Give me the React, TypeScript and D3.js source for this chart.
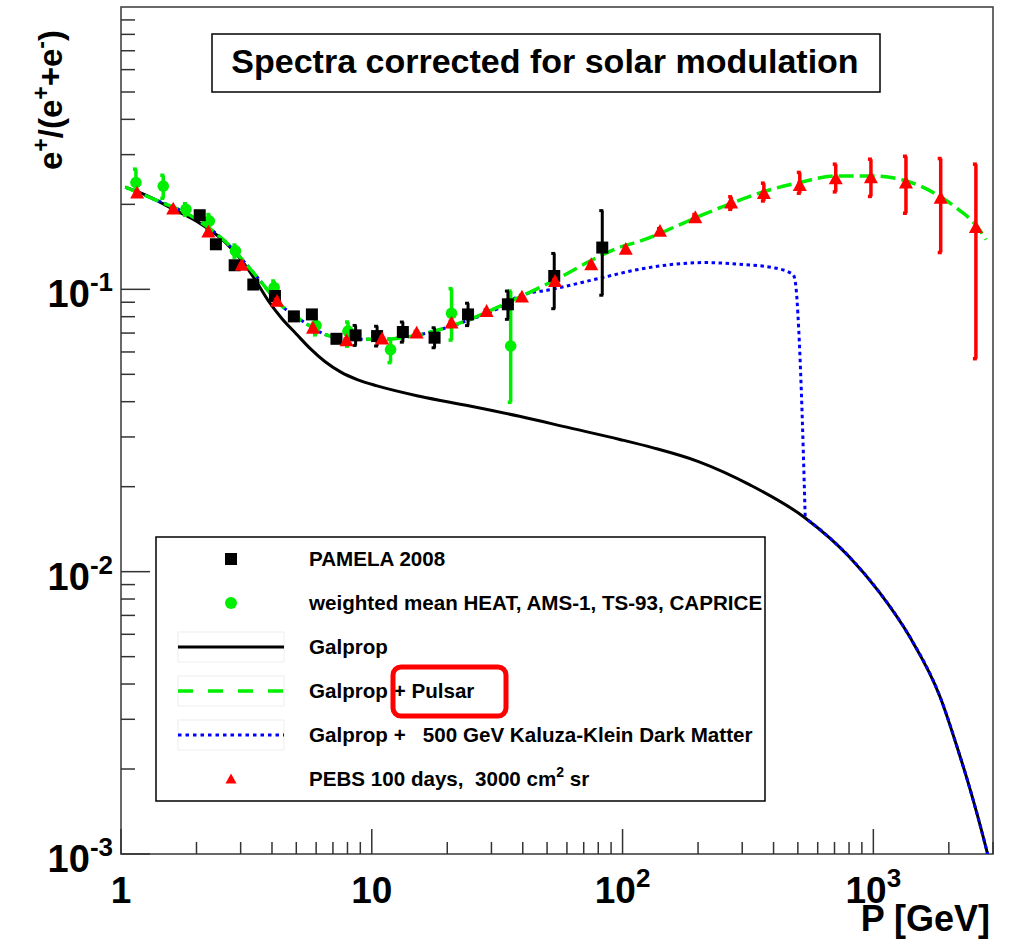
import React from 'react';
import * as d3 from 'd3';

const W = 1017, H = 939;
const PX0 = 121, PX1 = 993, PY0 = 854, PY1 = 7;

const titleText = 'Spectra corrected for solar modulation';

// Galprop (black solid)
const galpropX = [1.04, 1.28, 1.62, 2.03, 2.6, 3.0, 3.42, 3.87, 4.37, 5.0, 5.7, 6.5, 7.5, 8.8, 10.5, 15.5, 24.6, 38.8, 61.6, 97.5, 131.5, 202, 322, 535, 801, 1052, 1393, 1846, 2195, 2370, 2855, 2950];
const galpropY = [0.23, 0.214, 0.192, 0.173, 0.147, 0.128, 0.1085, 0.091, 0.079, 0.0695, 0.0615, 0.0555, 0.051, 0.0478, 0.0455, 0.0418, 0.0386, 0.0355, 0.0323, 0.0294, 0.0275, 0.0245, 0.0203, 0.0155, 0.0113, 0.0085, 0.0059, 0.0036, 0.00228, 0.00183, 0.001, 0.00089];

// Galprop + Pulsar (green dashed)
const pulsarX = [1.04, 1.28, 2.03, 2.6, 3.42, 4.3, 5.17, 6.5, 8.17, 10.7, 14.1, 18.7, 24.6, 32.3, 42.6, 56.1, 73.9, 97.5, 116.8, 196.6, 265, 373, 507, 708, 995, 1356, 1831, 2182, 2578, 2816];
const pulsarY = [0.23, 0.213, 0.1756, 0.148, 0.113, 0.0885, 0.0783, 0.0693, 0.0665, 0.0665, 0.068, 0.0721, 0.0783, 0.087, 0.0975, 0.11, 0.1257, 0.141, 0.148, 0.1796, 0.2, 0.223, 0.239, 0.252, 0.252, 0.242, 0.214, 0.192, 0.168, 0.15];

// Galprop + 500 GeV KK dark matter (blue dotted), up to where it rejoins Galprop
const kkX = [1.04, 1.28, 2.03, 2.6, 3.42, 4.3, 5.17, 6.5, 8.17, 10.7, 14.1, 18.7, 24.6, 32.3, 38.8, 52.4, 83, 116.8, 215, 292, 397, 478, 489, 504, 516, 535];
const kkY = [0.23, 0.213, 0.1756, 0.148, 0.113, 0.0885, 0.0783, 0.0693, 0.0665, 0.0665, 0.068, 0.072, 0.078, 0.086, 0.0947, 0.1, 0.11, 0.1178, 0.1244, 0.1227, 0.1194, 0.113, 0.1056, 0.0722, 0.0441, 0.0155];
const kkJoin = 535; // above this energy the KK curve equals Galprop

// PAMELA 2008 (black squares)
const pamelaX = [2.06, 2.39, 2.84, 3.37, 4.11, 4.89, 5.77, 7.23, 8.62, 10.5, 13.3, 17.8, 24.2, 34.9, 53.4, 83.0];
const pamelaY = [0.183, 0.1444, 0.1217, 0.104, 0.0947, 0.0802, 0.0815, 0.0668, 0.0687, 0.0683, 0.0706, 0.0674, 0.0815, 0.0885, 0.1115, 0.1406];
const pamelaLo = [0.178, 0.14, 0.118, 0.101, 0.092, 0.078, 0.079, 0.065, 0.0633, 0.063, 0.065, 0.0621, 0.0744, 0.0783, 0.0854, 0.0953];
const pamelaHi = [0.188, 0.149, 0.125, 0.107, 0.0975, 0.0825, 0.084, 0.0687, 0.0745, 0.074, 0.0766, 0.0731, 0.0893, 0.0986, 0.134, 0.19];

// weighted mean HEAT, AMS-1, TS-93, CAPRICE (green circles)
const heatX = [1.147, 1.474, 1.815, 2.25, 2.86, 4.08, 5.99, 8.04, 11.88, 20.8, 35.8];
const heatY = [0.239, 0.232, 0.192, 0.1746, 0.1368, 0.1014, 0.0745, 0.0711, 0.0612, 0.0822, 0.063];
const heatLo = [0.221, 0.21, 0.183, 0.166, 0.13, 0.096, 0.069, 0.0629, 0.055, 0.0661, 0.0398];
const heatHi = [0.2665, 0.2535, 0.201, 0.184, 0.1435, 0.107, 0.08, 0.0766, 0.0665, 0.1006, 0.0986];

// PEBS 100 days (red triangles)
const pebsX = [1.16, 1.615, 2.23, 3.03, 4.19, 5.83, 7.93, 11.0, 15.1, 20.8, 28.7, 39.7, 53.8, 75.0, 103, 141, 195, 271, 366, 509, 708, 978, 1349, 1856, 2564];
const pebsY = [0.22, 0.193, 0.16, 0.122, 0.091, 0.0731, 0.066, 0.0669, 0.0702, 0.0762, 0.0838, 0.0942, 0.107, 0.1227, 0.139, 0.161, 0.18, 0.203, 0.219, 0.234, 0.247, 0.249, 0.239, 0.211, 0.166];
const pebsLo = [0.218, 0.191, 0.158, 0.121, 0.09, 0.0724, 0.0653, 0.0662, 0.0695, 0.0754, 0.083, 0.0932, 0.106, 0.121, 0.137, 0.158, 0.176, 0.192, 0.2056, 0.219, 0.2214, 0.2134, 0.186, 0.135, 0.0568];
const pebsHi = [0.222, 0.195, 0.162, 0.123, 0.092, 0.0738, 0.0667, 0.0676, 0.0709, 0.077, 0.0846, 0.0952, 0.108, 0.124, 0.141, 0.164, 0.184, 0.2127, 0.2377, 0.2595, 0.2775, 0.289, 0.296, 0.2906, 0.2775];

const xMajor = [1, 10, 100, 1000];
const xMajorBase = ['1', '10', '10', '10'];
const xMajorSup = ['', '', '2', '3'];
const yMajor = [1e-3, 1e-2, 1e-1];
const yMajorSup = ['-3', '-2', '-1'];

const legendLabels = [
  'PAMELA 2008',
  'weighted mean HEAT, AMS-1, TS-93, CAPRICE',
  'Galprop',
  'Galprop + Pulsar',
  'Galprop +   500 GeV Kaluza-Klein Dark Matter',
  'PEBS 100 days,  3000 cm',
];

const FONT = '"Liberation Sans", Arial, Helvetica, sans-serif';

export default function App() {
  const x = d3.scaleLog().domain([1, 3000]).range([PX0, PX1]);
  const y = d3.scaleLog().domain([1e-3, 1]).range([PY0, PY1]);

  const line = d3
    .line<[number, number]>()
    .x((d) => x(d[0]))
    .y((d) => y(d[1]))
    .curve(d3.curveMonotoneX);

  const zip = (a: number[], b: number[]) => a.map((v, i) => [v, b[i]] as [number, number]);

  const minorX: number[] = [];
  for (const dec of [1, 10, 100, 1000]) {
    for (let k = 2; k <= 9; k++) {
      const v = dec * k;
      if (v <= 3000) minorX.push(v);
    }
  }
  const minorY: number[] = [];
  for (const dec of [1e-3, 1e-2, 1e-1]) {
    for (let k = 2; k <= 9; k++) minorY.push(dec * k);
  }

  const tri = (cx: number, cy: number, s: number) =>
    `M${cx - s / 2},${cy + s * 0.42}L${cx + s / 2},${cy + s * 0.42}L${cx},${cy - s * 0.5}Z`;

  const errBar = (px: number, lo: number, hi: number, color: string, w: number, key: string) => (
    <g key={key} stroke={color} strokeWidth={w}>
      <line x1={px} x2={px} y1={y(lo)} y2={y(hi)} />
      <line x1={px - 3} x2={px + 1} y1={y(lo)} y2={y(lo)} />
      <line x1={px - 3} x2={px + 1} y1={y(hi)} y2={y(hi)} />
    </g>
  );

  // legend geometry
  const LX0 = 156, LY0 = 537, LX1 = 765, LY1 = 801;
  const rowH = (LY1 - LY0) / 6;
  const rowY = (i: number) => LY0 + rowH / 2 + rowH * i;
  const mX = 231, sx0 = 178, sx1 = 284, tX = 309;

  const galpropPath = line(zip(galpropX, galpropY)) || '';

  return (
    <svg width={W} height={H} style={{ position: 'absolute', left: 0, top: 0, background: '#fff' }} fontFamily={FONT}>
      <rect x={0} y={0} width={W} height={H} fill="#fff" />
      <defs>
        <clipPath id="plotclip">
          <rect x={PX0} y={PY1} width={PX1 - PX0} height={PY0 - PY1} />
        </clipPath>
        <clipPath id="kktail">
          <rect x={x(kkJoin)} y={PY1} width={PX1 - x(kkJoin)} height={PY0 - PY1} />
        </clipPath>
      </defs>

      {/* frame */}
      <rect x={PX0} y={PY1} width={PX1 - PX0} height={PY0 - PY1} fill="none" stroke="#444" strokeWidth={1.6} />

      {/* ticks */}
      <g stroke="#333" strokeWidth={1.5}>
        {xMajor.map((v) => (
          <line key={'xM' + v} x1={x(v)} x2={x(v)} y1={PY0} y2={PY0 - 25} />
        ))}
        {minorX.map((v) => (
          <line key={'xm' + v} x1={x(v)} x2={x(v)} y1={PY0} y2={PY0 - 12} />
        ))}
        {yMajor.map((v) => (
          <line key={'yM' + v} x1={PX0} x2={PX0 + 29} y1={y(v)} y2={y(v)} />
        ))}
        {minorY.map((v) => (
          <line key={'ym' + v} x1={PX0} x2={PX0 + 14} y1={y(v)} y2={y(v)} />
        ))}
      </g>

      {/* x tick labels */}
      {xMajor.map((v, i) => (
        <text key={'xl' + v} x={x(v)} y={903} textAnchor="middle" fontSize={37} fontWeight="bold" fill="#000">
          {xMajorBase[i]}
          {xMajorSup[i] && (
            <tspan fontSize={26} dy={-16}>
              {xMajorSup[i]}
            </tspan>
          )}
        </text>
      ))}

      {/* y tick labels */}
      {yMajor.map((v, i) => (
        <text key={'yl' + v} x={113} y={y(v) + 18} textAnchor="end" fontSize={38} fontWeight="bold" fill="#000">
          10
          <tspan fontSize={26} dy={-16}>
            {yMajorSup[i]}
          </tspan>
        </text>
      ))}

      {/* axis titles */}
      <text x={990} y={931} textAnchor="end" fontSize={36} fontWeight="bold" fill="#000">
        P [GeV]
      </text>
      <text transform="translate(62,30) rotate(-90)" textAnchor="end" fontSize={33} fontWeight="bold" fill="#000">
        e<tspan fontSize={23} dy={-13}>+</tspan>
        <tspan dy={13}>/(e</tspan>
        <tspan fontSize={23} dy={-13}>+</tspan>
        <tspan dy={13}>+e</tspan>
        <tspan fontSize={23} dy={-13}>-</tspan>
        <tspan dy={13}>)</tspan>
      </text>

      {/* title box */}
      <rect x={212} y={34} width={668} height={58} fill="#fff" stroke="#000" strokeWidth={1.5} />
      <text x={545} y={73} textAnchor="middle" fontSize={34} fontWeight="bold" fill="#000">
        {titleText}
      </text>

      {/* curves */}
      <g clipPath="url(#plotclip)" fill="none">
        <path d={galpropPath} stroke="#000" strokeWidth={3} />
        <path d={line(zip(kkX, kkY)) || ''} stroke="#0000ff" strokeWidth={3} strokeDasharray="3.5,3.5" />
        <g clipPath="url(#kktail)">
          <path d={galpropPath} stroke="#0000ff" strokeWidth={3} strokeDasharray="3.5,3.5" />
        </g>
        <path d={line(zip(pulsarX, pulsarY)) || ''} stroke="#00ee00" strokeWidth={3.5} strokeDasharray="15,6" />
      </g>

      {/* HEAT etc. green circles */}
      <g>
        {heatX.map((v, i) => errBar(x(v), heatLo[i], heatHi[i], '#00ee00', 3.5, 'he' + i))}
        {heatX.map((v, i) => (
          <circle key={'hc' + i} cx={x(v)} cy={y(heatY[i])} r={5.8} fill="#00ee00" />
        ))}
      </g>

      {/* PAMELA black squares */}
      <g>
        {pamelaX.map((v, i) => errBar(x(v), pamelaLo[i], pamelaHi[i], '#000', 3, 'pe' + i))}
        {pamelaX.map((v, i) => (
          <rect key={'pr' + i} x={x(v) - 6} y={y(pamelaY[i]) - 6} width={12} height={12} fill="#000" />
        ))}
      </g>

      {/* PEBS red triangles */}
      <g>
        {pebsX.map((v, i) => errBar(x(v), pebsLo[i], pebsHi[i], '#ff0000', 3.5, 'rb' + i))}
        {pebsX.map((v, i) => (
          <path key={'rt' + i} d={tri(x(v), y(pebsY[i]), 14)} fill="#ff0000" />
        ))}
      </g>

      {/* legend */}
      <rect x={LX0} y={LY0} width={LX1 - LX0} height={LY1 - LY0} fill="#fff" stroke="#000" strokeWidth={1.5} />
      <rect x={mX - 6} y={rowY(0) - 6} width={12} height={12} fill="#000" />
      <circle cx={mX} cy={rowY(1)} r={6} fill="#00ee00" />
      {[2, 3, 4].map((i) => (
        <rect key={'lb' + i} x={sx0} y={rowY(i) - 15} width={sx1 - sx0} height={30} fill="none" stroke="#eeeeee" strokeWidth={1} />
      ))}
      <line x1={sx0} x2={sx1} y1={rowY(2)} y2={rowY(2)} stroke="#000" strokeWidth={3} />
      <line x1={sx0} x2={sx1} y1={rowY(3)} y2={rowY(3)} stroke="#00ee00" strokeWidth={3.5} strokeDasharray="15,15" />
      <line x1={sx0} x2={sx1} y1={rowY(4)} y2={rowY(4)} stroke="#0000ff" strokeWidth={3} strokeDasharray="3.5,4" />
      <path d={tri(mX, rowY(5), 11)} fill="#ff0000" />
      {legendLabels.map((t, i) => (
        <text key={'lt' + i} x={tX} y={rowY(i) + 7} fontSize={20.6} fontWeight="bold" fill="#000" style={{ whiteSpace: 'pre' }}>
          {t}
          {i === 5 && (
            <>
              <tspan fontSize={14} dy={-9}>2</tspan>
              <tspan dy={9}> sr</tspan>
            </>
          )}
        </text>
      ))}

      {/* red annotation box */}
      <rect x={393} y={667} width={113} height={49} rx={8} ry={8} fill="none" stroke="#ff0000" strokeWidth={5} />
    </svg>
  );
}
